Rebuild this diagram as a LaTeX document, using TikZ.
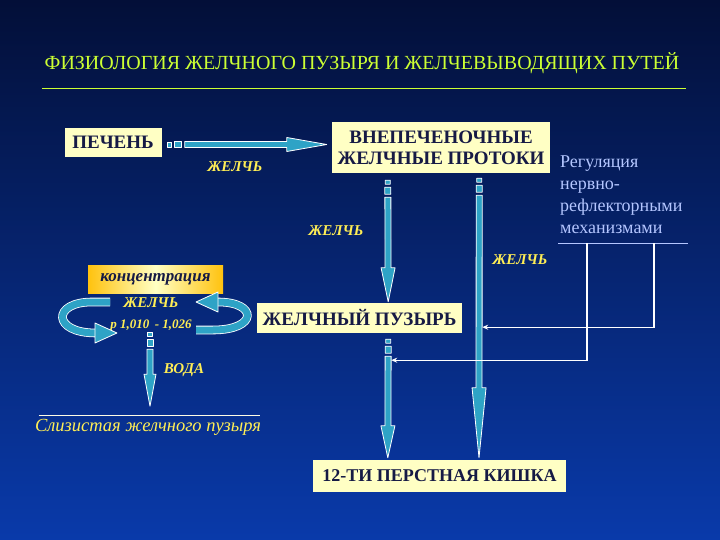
\documentclass[tikz,border=0pt]{standalone}
\usepackage{fontspec}
\setmainfont{Liberation Serif}
\usepackage{tikz}
\usetikzlibrary{calc,arrows.meta}
\definecolor{bgtop}{HTML}{030F38}
\definecolor{bgmid}{HTML}{0731A0}
\definecolor{bgbot}{HTML}{093AAA}
\definecolor{headc}{HTML}{CCFF33}
\definecolor{cream}{HTML}{FFFFC4}
\definecolor{ink}{HTML}{161A45}
\definecolor{gold}{HTML}{FFEE55}
\definecolor{amber}{HTML}{FFC20E}
\definecolor{duct}{HTML}{2EA3C6}
\definecolor{regc}{HTML}{B4C6FF}
\tikzset{
  box/.style={fill=cream, text=ink, inner sep=0pt, font=\bfseries\fontsize{19}{21}\selectfont},
  lab/.style={text=gold, font=\bfseries\itshape\fontsize{15}{17}\selectfont},
  flow/.style={fill=duct, draw=white, line width=0.8pt, line join=round},
  ring/.style={draw=white, double=duct, double distance=7pt, line width=0.8pt},
  ctl/.style={draw=white, line width=1.3pt, -{Stealth[length=6pt,width=5pt]}},
  rul/.style={line width=0.9pt},
}
% shaft with two little dashes in front and a long lance head
\newcommand\bilearrow[4]{%
  \coordinate (ba) at ($(#1)!4pt!(#2)$);
  \coordinate (bb) at ($(#1)!7pt!(#2)$);
  \coordinate (bc) at ($(#1)!14pt!(#2)$);
  \coordinate (bs) at ($(#1)!17pt!(#2)$);
  \coordinate (bh) at ($(#2)!#3!(#1)$);
  \filldraw[flow] ($(#1)!2.5pt!90:(#2)$) -- ($(ba)!2.5pt!90:(#2)$) -- ($(ba)!2.5pt!-90:(#2)$) -- ($(#1)!2.5pt!-90:(#2)$) -- cycle;
  \filldraw[flow] ($(bb)!3pt!90:(#2)$) -- ($(bc)!3pt!90:(#2)$) -- ($(bc)!3pt!-90:(#2)$) -- ($(bb)!3pt!-90:(#2)$) -- cycle;
  \filldraw[flow] ($(bs)!3pt!90:(#2)$) -- ($(bh)!3pt!90:(#2)$) -- ($(bh)!#4!90:(#2)$) -- (#2)
    -- ($(bh)!#4!-90:(#2)$) -- ($(bh)!3pt!-90:(#2)$) -- ($(bs)!3pt!-90:(#2)$) -- cycle;
}
\begin{document}
\begin{tikzpicture}[x=1pt,y=-1pt]
  \useasboundingbox (0,0) rectangle (720,540);
  \shade[top color=bgtop, middle color=bgmid, bottom color=bgbot] (0,0) rectangle (720,540);

  % title
  \node[text=headc, font=\fontsize{20}{22}\selectfont] (head) at (362,63) {ФИЗИОЛОГИЯ ЖЕЛЧНОГО ПУЗЫРЯ И ЖЕЛЧЕВЫВОДЯЩИХ ПУТЕЙ};
  \draw[headc, rul] (42,88) -- (686,88);

  % boxes
  \node[box, minimum width=97pt, minimum height=29pt] (liver) at (113,142.5) {ПЕЧЕНЬ};
  \node[box, minimum width=218pt, minimum height=51pt, align=center] (ducts) at (441,147.5) {ВНЕПЕЧЕНОЧНЫЕ\\ЖЕЛЧНЫЕ ПРОТОКИ};
  \node[box, minimum width=205pt, minimum height=30pt] (bladder) at (359.5,318) {ЖЕЛЧНЫЙ ПУЗЫРЬ};
  \node[box, font=\bfseries\fontsize{18}{20}\selectfont, minimum width=253pt, minimum height=32pt] (duod) at (439.5,476) {12-ТИ ПЕРСТНАЯ КИШКА};
  \node[box, left color=amber, right color=amber, middle color=cream, font=\bfseries\itshape\fontsize{17}{19}\selectfont,
    minimum width=135pt, minimum height=28pt] (conc) at (155.5,279) {концентрация};

  % labels
  \node[lab] (bile1) at (235,167) {ЖЕЛЧЬ};
  \node[lab] (bile2) at (336,231) {ЖЕЛЧЬ};
  \node[lab] (bile3) at (520,260) {ЖЕЛЧЬ};
  \node[lab] (bile4) at (151,303) {ЖЕЛЧЬ};
  \node[lab, font=\bfseries\itshape\fontsize{13}{15}\selectfont] (dens) at (151,326) {р 1,010 \,- 1,026};
  \node[lab] (water) at (184,370) {ВОДА};
  \node[lab, font=\itshape\fontsize{18.5}{20}\selectfont] (muc) at (148,427) {Слизистая желчного пузыря};
  \draw[white!85!gold, rul] ([xshift=7pt]muc.north west) -- ([xshift=-4pt]muc.north east);

  \node[anchor=north west, text=regc, font=\fontsize{18}{22}\selectfont, align=left, inner sep=0pt, text width=140pt]
    (rule) at (560,156) {Регуляция\\нервно-\\рефлекторными\\механизмами};
  \coordinate (ul) at ([yshift=-9pt]rule.south west);
  \draw[regc, rul] ($(ul)+(-2,0)$) -- ($(ul)+(128,0)$);

  % bile flow
  \coordinate (h0) at ($(liver.east)+(6,2)$);
  \coordinate (h1) at ($(ducts.west |- h0)+(-5,0)$);
  \bilearrow{h0}{h1}{40pt}{7pt}
  \coordinate (v0) at ($(ducts.south west)+(56,7)$);
  \coordinate (v1) at ($(bladder.north east)+(-74,-1)$);
  \bilearrow{v0}{v1}{34pt}{7pt}
  \coordinate (w0) at ($(ducts.south east)+(-71,5)$);
  \coordinate (w1) at ($(duod.north)+(39.5,-2)$);
  \bilearrow{w0}{w1}{70pt}{7pt}
  \coordinate (u0) at ($(bladder.south east)+(-74,6)$);
  \coordinate (u1) at ($(duod.north west)+(75,-2)$);
  \bilearrow{u0}{u1}{32pt}{7pt}
  \coordinate (c0) at ($(conc.south)+(-5.5,39)$);
  \coordinate (c1) at ($(conc.south)+(-5.5,113)$);
  \bilearrow{c0}{c1}{32pt}{6pt}

  % nervous control
  \coordinate (ua) at ($(ul)+(27,0)$);
  \coordinate (ub) at ($(ul)+(94,0)$);
  \coordinate (ta) at ($(u0)+(3,21)$);
  \coordinate (tb) at ($(w0)+(3,149)$);
  \draw[ctl] (ua) |- (ta);
  \draw[ctl] (ub) |- (tb);

  % concentration cycle
  \draw[ring] (110,302) -- (92,302) .. controls (52,302) and (52,333) .. (96,333);
  \filldraw[flow] (95,323) -- (117,333) -- (95,343) -- cycle;
  \draw[ring] (196,330) -- (213,330) .. controls (258,330) and (258,302) .. (218,302);
  \filldraw[flow] (218,292) -- (196,302) -- (218,312) -- cycle;
\end{tikzpicture}
\end{document}
